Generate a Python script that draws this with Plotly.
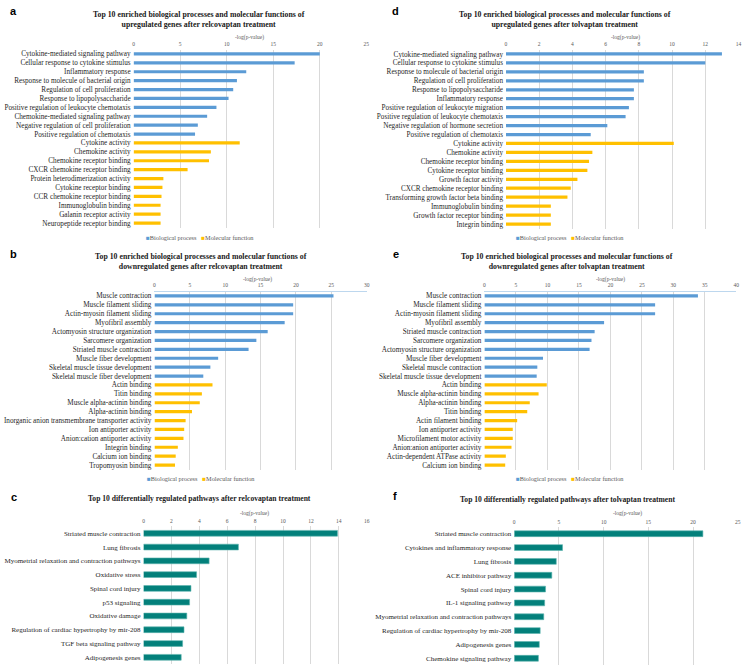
import plotly.graph_objects as go

W, H = 750, 671
BLUE = "#5B9BD5"
GOLD = "#FFC000"
TEAL = "#03807B"
SERIF = "Liberation Serif"
SANS = "Liberation Sans"

# ---------------- data ----------------
a_bp_labels = ["Cytokine-mediated signaling pathway", "Cellular response to cytokine stimulus",
               "Inflammatory response", "Response to molecule of bacterial origin",
               "Regulation of cell proliferation", "Response to lipopolysaccharide",
               "Positive regulation of leukocyte chemotaxis", "Chemokine-mediated signaling pathway",
               "Negative regulation of cell proliferation", "Positive regulation of chemotaxis"]
a_bp_vals = [20.0, 17.3, 12.1, 11.1, 10.7, 10.2, 8.9, 7.9, 6.9, 6.6]
a_mf_labels = ["Cytokine activity", "Chemokine activity", "Chemokine receptor binding",
               "CXCR chemokine receptor binding", "Protein heterodimerization activity",
               "Cytokine receptor binding", "CCR chemokine receptor binding",
               "Immunoglobulin binding", "Galanin receptor activity", "Neuropeptide receptor binding"]
a_mf_vals = [11.4, 8.3, 8.1, 5.8, 3.2, 3.1, 3.0, 2.9, 2.9, 2.9]

d_bp_labels = ["Cytokine-mediated signaling pathway", "Cellular response to cytokine stimulus",
               "Response to molecule of bacterial origin", "Regulation of cell proliferation",
               "Response to lipopolysaccharide", "Inflammatory response",
               "Positive regulation of leukocyte migration", "Positive regulation of leukocyte chemotaxis",
               "Negative regulation of hormone secretion", "Positive regulation of chemotaxis"]
d_bp_vals = [13.0, 12.0, 8.3, 8.3, 7.7, 7.7, 7.4, 7.2, 6.1, 5.1]
d_mf_labels = ["Cytokine activity", "Chemokine activity", "Chemokine receptor binding",
               "Cytokine receptor binding", "Growth factor activity", "CXCR chemokine receptor binding",
               "Transforming growth factor beta binding", "Immunoglobulin binding",
               "Growth factor receptor binding", "Integrin binding"]
d_mf_vals = [10.1, 5.2, 5.0, 4.9, 4.3, 3.9, 3.7, 2.7, 2.7, 2.7]

b_bp_labels = ["Muscle contraction", "Muscle filament sliding", "Actin-myosin filament sliding",
               "Myofibril assembly", "Actomyosin structure organization", "Sarcomere organization",
               "Striated muscle contraction", "Muscle fiber development",
               "Skeletal muscle tissue development", "Skeletal muscle fiber development"]
b_bp_vals = [25.3, 19.6, 19.6, 18.4, 16.0, 14.4, 13.3, 9.0, 7.9, 6.9]
b_mf_labels = ["Actin binding", "Titin binding", "Muscle alpha-actinin binding", "Alpha-actinin binding",
               "Inorganic anion transmembrane transporter activity", "Ion antiporter activity",
               "Anion:cation antiporter activity", "Integrin binding", "Calcium ion binding",
               "Tropomyosin binding"]
b_mf_vals = [8.2, 6.7, 6.4, 5.3, 4.4, 4.2, 4.1, 3.3, 3.0, 2.9]

e_bp_labels = ["Muscle contraction", "Muscle filament sliding", "Actin-myosin filament sliding",
               "Myofibril assembly", "Striated muscle contraction", "Sarcomere organization",
               "Actomyosin structure organization", "Muscle fiber development",
               "Skeletal muscle contraction", "Skeletal muscle tissue development"]
e_bp_vals = [33.9, 27.1, 27.1, 19.0, 17.5, 17.0, 16.7, 9.3, 8.4, 8.3]
e_mf_labels = ["Actin binding", "Muscle alpha-actinin binding", "Alpha-actinin binding", "Titin binding",
               "Actin filament binding", "Ion antiporter activity", "Microfilament motor activity",
               "Anion:anion antiporter activity", "Actin-dependent ATPase activity", "Calcium ion binding"]
e_mf_vals = [9.9, 8.6, 7.2, 6.8, 5.2, 4.5, 4.5, 4.3, 3.4, 3.3]

c_labels = ["Striated muscle contraction", "Lung fibrosis", "Myometrial relaxation and contraction pathways",
            "Oxidative stress", "Spinal cord injury", "p53 signaling", "Oxidative damage",
            "Regulation of cardiac hypertrophy by mir-208", "TGF beta signaling pathway", "Adipogenesis genes"]
c_vals = [13.9, 6.8, 4.7, 3.8, 3.4, 3.3, 3.1, 2.9, 2.8, 2.7]

f_labels = ["Striated muscle contraction", "Cytokines and inflammatory response", "Lung fibrosis",
            "ACE inhibitor pathway", "Spinal cord injury", "IL-1 signaling pathway",
            "Myometrial relaxation and contraction pathways", "Regulation of cardiac hypertrophy by mir-208",
            "Adipogenesis genes", "Chemokine signaling pathway"]
f_vals = [21.1, 5.4, 4.7, 4.2, 3.5, 3.4, 3.3, 2.9, 2.8, 2.7]

titles = {
    "a": "Top 10 enriched biological processes and molecular functions of<br>upregulated genes after relcovaptan treatment",
    "d": "Top 10 enriched biological processes and molecular functions of<br>upregulated genes after tolvaptan treatment",
    "b": "Top 10 enriched biological processes and molecular functions of<br>downregulated genes after relcovaptan treatment",
    "e": "Top 10 enriched biological processes and molecular functions of<br>downregulated genes after tolvaptan treatment",
    "c": "Top 10 differentially regulated pathways after relcovaptan treatment",
    "f": "Top 10 differentially regulated pathways after tolvaptan treatment",
}
axis_title = "-log(p-value)"

# ---------------- layout helpers ----------------
def px(x):
    return x / W

def py(y):
    return 1 - y / H

panels = [
    dict(k="a", i=1, xd=(133.3, 367.3), yd=(49.5, 227.5), mx=25, dt=5,
         bp=(a_bp_labels, a_bp_vals), mf=(a_mf_labels, a_mf_vals),
         tt=(199.5, 19.5), lt=(13, 11), at=(250, 37.5), lg=(200, 237), border=False),
    dict(k="d", i=2, xd=(507.7, 741.5), yd=(49.5, 228.5), mx=14, dt=2,
         bp=(d_bp_labels, d_bp_vals), mf=(d_mf_labels, d_mf_vals),
         tt=(567.5, 19.5), lt=(397, 11), at=(628, 37.5), lg=(572, 237), border=False),
    dict(k="b", i=3, xd=(154.3, 367.7), yd=(291.5, 469.5), mx=30, dt=5,
         bp=(b_bp_labels, b_bp_vals), mf=(b_mf_labels, b_mf_vals),
         tt=(200.7, 261.5), lt=(13, 254), at=(258, 279), lg=(201, 479), border=True),
    dict(k="e", i=4, xd=(486, 739.3), yd=(291.5, 469.5), mx=40, dt=5,
         bp=(e_bp_labels, e_bp_vals), mf=(e_mf_labels, e_mf_vals),
         tt=(569, 261.5), lt=(397, 254), at=(613, 279), lg=(572, 479), border=True),
    dict(k="c", i=5, xd=(143.3, 367.7), yd=(526.4, 664.2), mx=16, dt=2,
         one=(c_labels, c_vals),
         tt=(199.5, 498.5), lt=(13, 497), at=(255, 513), lg=None, border=False),
    dict(k="f", i=6, xd=(516, 740.7), yd=(526.8, 665.2), mx=25, dt=5,
         one=(f_labels, f_vals),
         tt=(569.5, 499), lt=(396, 496), at=(630, 513), lg=None, border=False),
]

fig = go.Figure()
annotations = []

for p in panels:
    i = p["i"]
    xn = "x" if i == 1 else f"x{i}"
    yn = "y" if i == 1 else f"y{i}"
    xl = "xaxis" if i == 1 else f"xaxis{i}"
    yl = "yaxis" if i == 1 else f"yaxis{i}"

    if "one" in p:
        labels, vals = p["one"]
        fig.add_trace(go.Bar(x=vals, y=labels, orientation="h", xaxis=xn, yaxis=yn,
                             marker=dict(color=TEAL, line=dict(color="#5DB3AE", width=0.6)),
                             width=0.42, showlegend=False, name=p["k"]))
        cats = labels
    else:
        bl, bv = p["bp"]
        ml, mv = p["mf"]
        fig.add_trace(go.Bar(x=bv, y=bl, orientation="h", xaxis=xn, yaxis=yn,
                             marker=dict(color=BLUE, line=dict(width=0)), width=0.36,
                             showlegend=False, name="Biological process"))
        fig.add_trace(go.Bar(x=mv, y=ml, orientation="h", xaxis=xn, yaxis=yn,
                             marker=dict(color=GOLD, line=dict(width=0)), width=0.36,
                             showlegend=False, name="Molecular function"))
        cats = bl + ml

    fig.update_layout(**{
        xl: dict(domain=[px(p["xd"][0]), px(p["xd"][1])], anchor=yn, side="top",
                 range=[0, p["mx"]], dtick=p["dt"], tick0=0, tickmode="linear",
                 showgrid=True, gridcolor="#D9D9D9", gridwidth=0.7,
                 zeroline=False, showline=p["border"], linecolor="#BDD7EE", linewidth=0.8,
                 ticks="", ticklabelstandoff=1,
                 tickfont=dict(family=SERIF, size=5.5, color="#595959"), fixedrange=True),
        yl: dict(domain=[py(p["yd"][1]), py(p["yd"][0])], anchor=xn, type="category",
                 categoryorder="array", categoryarray=cats, autorange="reversed",
                 tickmode="array", tickvals=cats, ticktext=cats,
                 showgrid=False, zeroline=False, showline=False, ticks="",
                 ticklabelstandoff=2,
                 tickfont=dict(family=SERIF, size=7.2 if "one" not in p else 7.0, color="#262626"),
                 fixedrange=True),
    })

    annotations.append(dict(x=px(p["tt"][0]), y=py(p["tt"][1]), xref="paper", yref="paper",
                            text=f"<b>{titles[p['k']]}</b>", showarrow=False,
                            xanchor="center", yanchor="middle",
                            font=dict(family=SERIF, size=7.8 if "one" not in p else 7.6, color="#1a1a1a")))
    annotations.append(dict(x=px(p["lt"][0]), y=py(p["lt"][1]), xref="paper", yref="paper",
                            text=f"<b>{p['k']}</b>", showarrow=False,
                            xanchor="center", yanchor="middle",
                            font=dict(family=SANS, size=11, color="#000000")))
    annotations.append(dict(x=px(p["at"][0]), y=py(p["at"][1]), xref="paper", yref="paper",
                            text=axis_title, showarrow=False,
                            xanchor="center", yanchor="middle",
                            font=dict(family=SERIF, size=5.5, color="#595959")))
    if p["lg"]:
        annotations.append(dict(x=px(p["lg"][0]), y=py(p["lg"][1]), xref="paper", yref="paper",
                                text=f"<span style='color:{BLUE}'>■</span>Biological process   "
                                     f"<span style='color:{GOLD}'>■</span>Molecular function",
                                showarrow=False, xanchor="center", yanchor="middle",
                                font=dict(family=SERIF, size=6.3, color="#595959")))

fig.update_layout(
    width=W, height=H,
    margin=dict(l=0, r=0, t=0, b=0),
    paper_bgcolor="white", plot_bgcolor="white",
    barmode="overlay",
    showlegend=False,
    annotations=annotations,
)

fig.write_html("out.html")
